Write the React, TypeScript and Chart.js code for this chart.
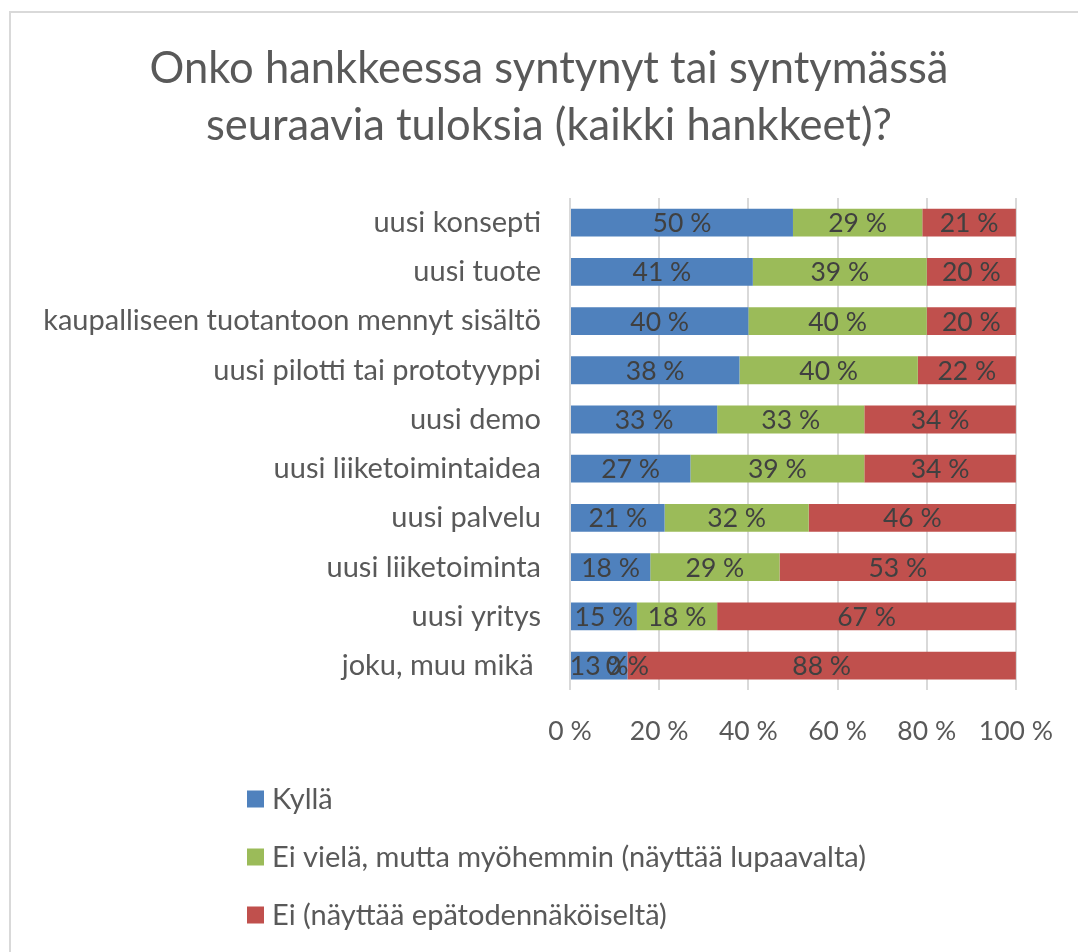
import { useEffect, useRef } from "react";
import { Chart, registerables } from "chart.js";

Chart.register(...registerables);

const TITLE = ["Onko hankkeessa syntynyt tai syntymässä", "seuraavia tuloksia (kaikki hankkeet)?"];

const CATEGORIES = [
  "uusi konsepti",
  "uusi tuote",
  "kaupalliseen tuotantoon mennyt sisältö",
  "uusi pilotti tai prototyyppi",
  "uusi demo",
  "uusi liiketoimintaidea",
  "uusi palvelu",
  "uusi liiketoiminta",
  "uusi yritys",
  "joku, muu mikä ",
];

const SERIES_NAMES = [
  "Kyllä",
  "Ei vielä, mutta myöhemmin (näyttää lupaavalta)",
  "Ei (näyttää epätodennäköiseltä)",
];

const KYLLA = [50, 41, 40, 38, 33, 27, 21, 18, 15, 13];
const EI_VIELA = [29, 39, 40, 40, 33, 39, 32, 29, 18, 0];
const EI = [21, 20, 20, 22, 34, 34, 46, 53, 67, 88];

const X_TICKS = [0, 20, 40, 60, 80, 100];

const COLORS = ["#4F81BD", "#9BBB59", "#C0504D"];

const FONT = "Lato, 'Open Sans', sans-serif";
const TEXT_SIZE = 29;
const NUM_SIZE = 26.5;
const TITLE_SIZE = 43.5;

export default function App() {
  const ref = useRef<HTMLCanvasElement>(null);

  useEffect(() => {
    if (!ref.current) return;
    const raw = [KYLLA, EI_VIELA, EI];
    const sums = CATEGORIES.map((_, i) => KYLLA[i] + EI_VIELA[i] + EI[i]);
    const pct = (arr: number[]) => arr.map((v, i) => (v / sums[i]) * 100);

    const titlePlugin = {
      id: "centeredTitle",
      afterDraw(chart: any) {
        const ctx = chart.ctx;
        ctx.save();
        ctx.font = `${TITLE_SIZE}px ${FONT}`;
        ctx.fillStyle = "#595959";
        ctx.textAlign = "center";
        ctx.textBaseline = "alphabetic";
        TITLE.forEach((line, i) => {
          ctx.fillText(line, 538, 70 + i * 57);
        });
        ctx.restore();
      },
    };

    const barLabels = {
      id: "barLabels",
      afterDatasetsDraw(chart: any) {
        const ctx = chart.ctx;
        ctx.save();
        ctx.font = `${NUM_SIZE}px ${FONT}`;
        ctx.fillStyle = "#404040";
        ctx.textAlign = "center";
        ctx.textBaseline = "middle";
        chart.data.datasets.forEach((_ds: any, di: number) => {
          const meta = chart.getDatasetMeta(di);
          meta.data.forEach((bar: any, i: number) => {
            const p = bar.getProps(["x", "base", "y"], true);
            ctx.fillText(`${raw[di][i]} %`, (p.x + p.base) / 2, p.y + 1);
          });
        });
        ctx.restore();
      },
    };

    const vertLegend = {
      id: "vertLegend",
      afterDraw(chart: any) {
        const ctx = chart.ctx;
        ctx.save();
        ctx.font = `${TEXT_SIZE}px ${FONT}`;
        ctx.textAlign = "left";
        ctx.textBaseline = "middle";
        const x0 = 236;
        const y0 = chart.height - 153;
        const gap = 58;
        chart.data.datasets.forEach((ds: any, i: number) => {
          const cy = y0 + i * gap;
          ctx.fillStyle = ds.backgroundColor;
          ctx.fillRect(x0, cy - 8.5, 17, 17);
          ctx.fillStyle = "#595959";
          ctx.fillText(ds.label, x0 + 25, cy + 1);
        });
        ctx.restore();
      },
    };

    const chart = new Chart(ref.current, {
      type: "bar",
      data: {
        labels: CATEGORIES,
        datasets: SERIES_NAMES.map((name, i) => ({
          label: name,
          data: pct(raw[i]),
          backgroundColor: COLORS[i],
          borderWidth: 0,
          barPercentage: 0.565,
          categoryPercentage: 1,
        })),
      },
      options: {
        indexAxis: "y",
        animation: false,
        responsive: true,
        maintainAspectRatio: false,
        layout: { padding: { left: 0, right: 59, top: 185, bottom: 180 } },
        plugins: {
          legend: { display: false },
          tooltip: { enabled: false },
          title: { display: false },
        },
        scales: {
          x: {
            stacked: true,
            min: 0,
            max: 100,
            afterBuildTicks(scale: any) {
              scale.ticks = X_TICKS.map((v) => ({ value: v }));
            },
            ticks: {
              callback: (v: any) => `${v} %`,
              color: "#595959",
              font: { family: FONT, size: NUM_SIZE },
              padding: 25,
              maxRotation: 0,
            },
            grid: { color: "#d9d9d9", lineWidth: 2, drawTicks: false },
            border: { display: false },
          },
          y: {
            stacked: true,
            afterFit(scale: any) {
              scale.width = 559;
            },
            ticks: {
              color: "#595959",
              font: { family: FONT, size: TEXT_SIZE },
              padding: 29,
              autoSkip: false,
            },
            grid: { display: false, drawTicks: false },
            border: { display: false },
          },
        },
      },
      plugins: [barLabels, vertLegend, titlePlugin],
    });
    return () => chart.destroy();
  }, []);

  return (
    <div
      style={{
        position: "fixed",
        left: 9,
        top: 11,
        width: 1069,
        height: 941,
        boxSizing: "border-box",
        borderTop: "2px solid #d9d9d9",
        borderLeft: "2px solid #d9d9d9",
        background: "#fff",
      }}
    >
      <div style={{ position: "relative", width: "100%", height: "100%" }}>
        <canvas ref={ref} />
      </div>
    </div>
  );
}
